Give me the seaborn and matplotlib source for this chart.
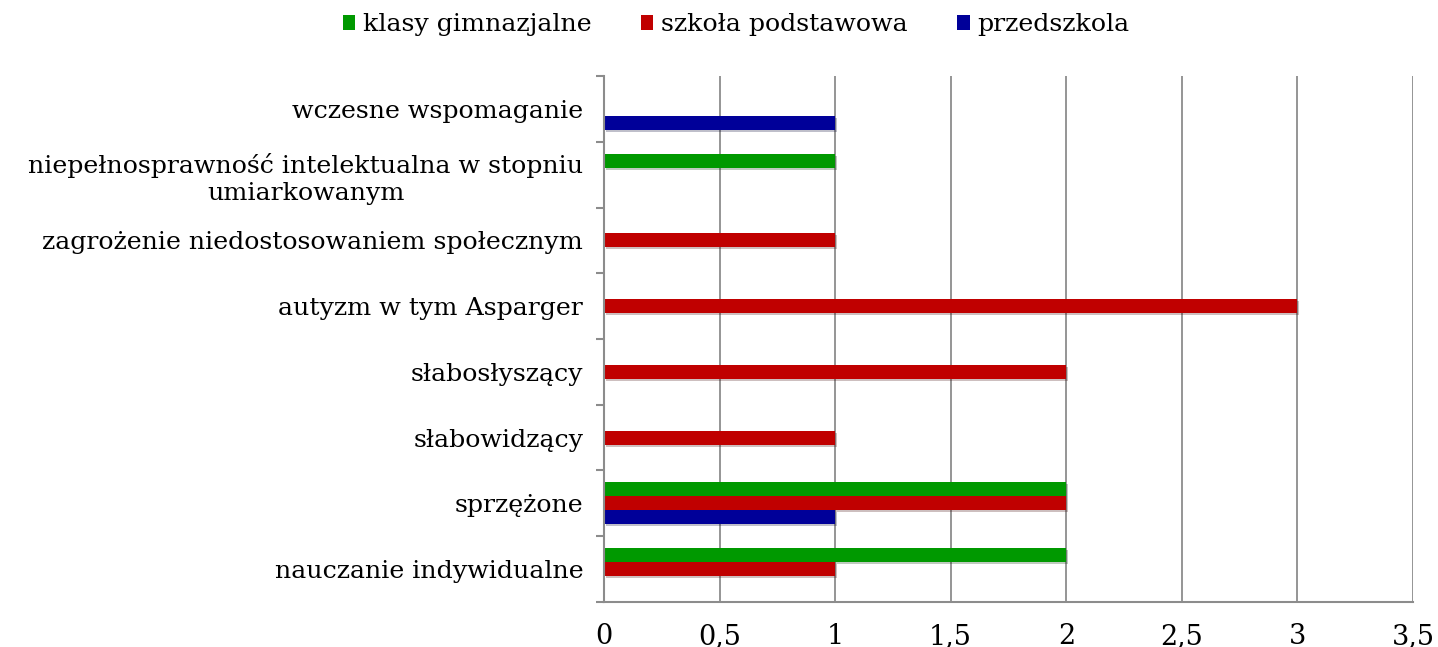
import numpy as np
import pandas as pd
import matplotlib
matplotlib.use("Agg")
import matplotlib.pyplot as plt
import matplotlib.patheffects as pe
from matplotlib.ticker import FuncFormatter, MultipleLocator, FixedLocator
import seaborn as sns

# categories, top to bottom
kategorie = [
    "wczesne wspomaganie",
    "niepełnosprawność intelektualna w stopniu\numiarkowanym",
    "zagrożenie niedostosowaniem społecznym",
    "autyzm w tym Asparger",
    "słabosłyszący",
    "słabowidzący",
    "sprzężone",
    "nauczanie indywidualne",
]
serie = ["klasy gimnazjalne", "szkoła podstawowa", "przedszkola"]
klasy_gimnazjalne = [0, 1, 0, 0, 0, 0, 2, 2]
szkola_podstawowa = [0, 0, 1, 3, 2, 1, 2, 1]
przedszkola = [1, 0, 0, 0, 0, 0, 1, 0]
kolory = ["#009900", "#C00000", "#000099"]

df = pd.DataFrame({
    "kategoria": kategorie * 3,
    "typ": [serie[0]] * 8 + [serie[1]] * 8 + [serie[2]] * 8,
    "liczba": klasy_gimnazjalne + szkola_podstawowa + przedszkola,
})

sns.set_style("white")
plt.rcParams["font.family"] = ["DejaVu Serif"]
plt.rcParams["text.color"] = "black"
plt.rcParams["xtick.labelcolor"] = "black"
plt.rcParams["ytick.labelcolor"] = "black"

fig = plt.figure(figsize=(14.38, 6.47), dpi=100)
ax = fig.add_axes([0.42, 0.0696, 0.5626, 0.8129])

sns.barplot(data=df, y="kategoria", x="liczba", hue="typ", order=kategorie,
            hue_order=serie, palette=kolory, saturation=1, orient="h",
            width=0.64, linewidth=0, errorbar=None, ax=ax)

shadow = [pe.SimplePatchShadow(offset=(1.5, -1.5), alpha=0.25), pe.Normal()]
for p in ax.patches:
    if p.get_width() > 0:
        p.set_path_effects(shadow)

ax.set_xlim(0, 3.5)
ax.set_ylim(len(kategorie) - 0.5, -0.5)
ax.xaxis.set_major_locator(MultipleLocator(0.5))
ax.xaxis.set_major_formatter(FuncFormatter(lambda v, _: f"{v:g}".replace(".", ",")))
ax.grid(axis="x", color="#8c8c8c", linewidth=1.3)
ax.set_axisbelow(True)

ax.set_xlabel("")
ax.set_ylabel("")
for s in ["top", "right"]:
    ax.spines[s].set_visible(False)
for s in ["left", "bottom"]:
    ax.spines[s].set_color("#8c8c8c")
    ax.spines[s].set_linewidth(1.5)

ax.yaxis.set_minor_locator(FixedLocator(np.arange(-0.5, len(kategorie), 1.0)))
ax.tick_params(axis="y", which="major", length=0, pad=15, labelsize=18.2)
ax.tick_params(axis="y", which="minor", length=6, width=1.5, color="#8c8c8c", left=True)
ax.tick_params(axis="x", length=7, width=1.5, color="#8c8c8c", labelsize=19.5, pad=8)
for lbl in ax.get_yticklabels():
    lbl.set_multialignment("center")
    lbl.set_linespacing(1.2)

handles, labels = ax.get_legend_handles_labels()
ax.legend_.remove()
fig.legend(handles, labels, loc="center", bbox_to_anchor=(736 / 1438, 1 - 25 / 647),
           ncol=3, frameon=False, fontsize=18.2, handlelength=0.5,
           handleheight=0.5, handletextpad=0.3, columnspacing=1.95,
           borderpad=0)

fig.savefig("out.png", dpi=100)
